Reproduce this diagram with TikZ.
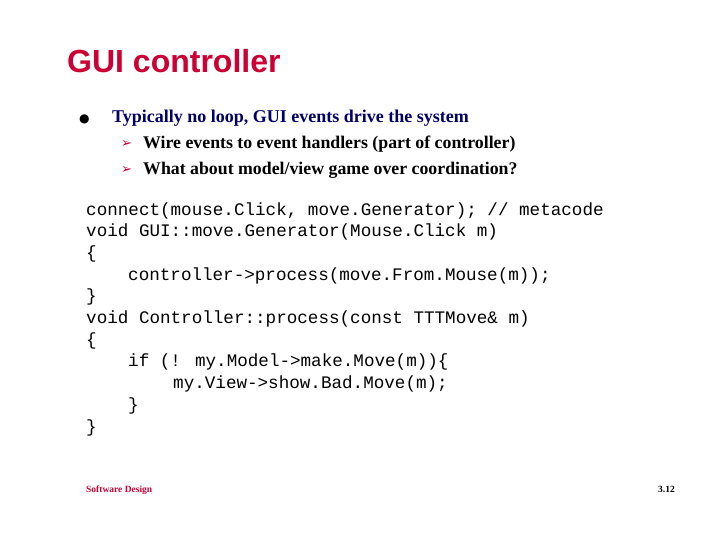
\documentclass[tikz,border=0pt]{standalone}
\usepackage{fontspec}
\setmainfont{Liberation Serif}
\newfontfamily\titlefont{Liberation Sans}
\newfontfamily\codefont{Liberation Mono}
\newfontfamily\symfont{DejaVu Sans}
\definecolor{slidered}{RGB}{204,0,51}
\definecolor{navy}{RGB}{0,0,102}
\begin{document}
\begin{tikzpicture}[x=1pt,y=-1pt,
  txt/.style={anchor=base west,inner sep=0pt},
  code/.style={txt,font=\codefont\fontsize{17.6}{18}\selectfont},
  sub/.style={txt,font=\bfseries\fontsize{17.8}{20}\selectfont}]
\useasboundingbox (0,0) rectangle (720,540);
\node[txt,font=\titlefont\bfseries\fontsize{32}{36}\selectfont,text=slidered] (title) at (67,73) {GUI controller};
\node[txt,font=\fontsize{12}{14}\selectfont] (b1) at (79,123) {\symfont\char"25CF};
\node[txt,font=\bfseries\fontsize{18}{20}\selectfont,text=navy] (t1) at (112,123) {Typically no loop, GUI events drive the system};
\node[txt,font=\fontsize{13}{14}\selectfont,text=slidered] (a1) at (121,148) {\symfont\char"27A2};
\node[sub] (t2) at (143,149) {Wire events to event handlers (part of controller)};
\node[txt,font=\fontsize{13}{14}\selectfont,text=slidered] (a2) at (121,174) {\symfont\char"27A2};
\node[sub] (t3) at (143,175) {What about model/view game over coordination?};
\foreach \i/\x/\s in {
 0/86/{connect(mouse.Click, move.Generator);  // metacode},
 1/86/{void GUI::move.Generator(Mouse.Click m)},
 2/86/{\{},
 3/128/{controller->process(move.From.Mouse(m));},
 4/86/{\}},
 5/86/{void Controller::process(const TTTMove\& m)},
 6/86/{\{},
 7/128/{if (! my.Model->make.Move(m))\{},
 8/173/{my.View->show.Bad.Move(m);},
 9/128/{\}},
 10/86/{\}}}
  \node[code] (c\i) at (\x,{215+21.7*\i}) {\s};
\node[txt,font=\bfseries\fontsize{9.5}{10}\selectfont,text=slidered] (foot) at (86,492) {Software Design};
\node[anchor=base east,inner sep=0pt,font=\bfseries\fontsize{9.5}{10}\selectfont] (num) at (675,492) {3.12};
\end{tikzpicture}
\end{document}
